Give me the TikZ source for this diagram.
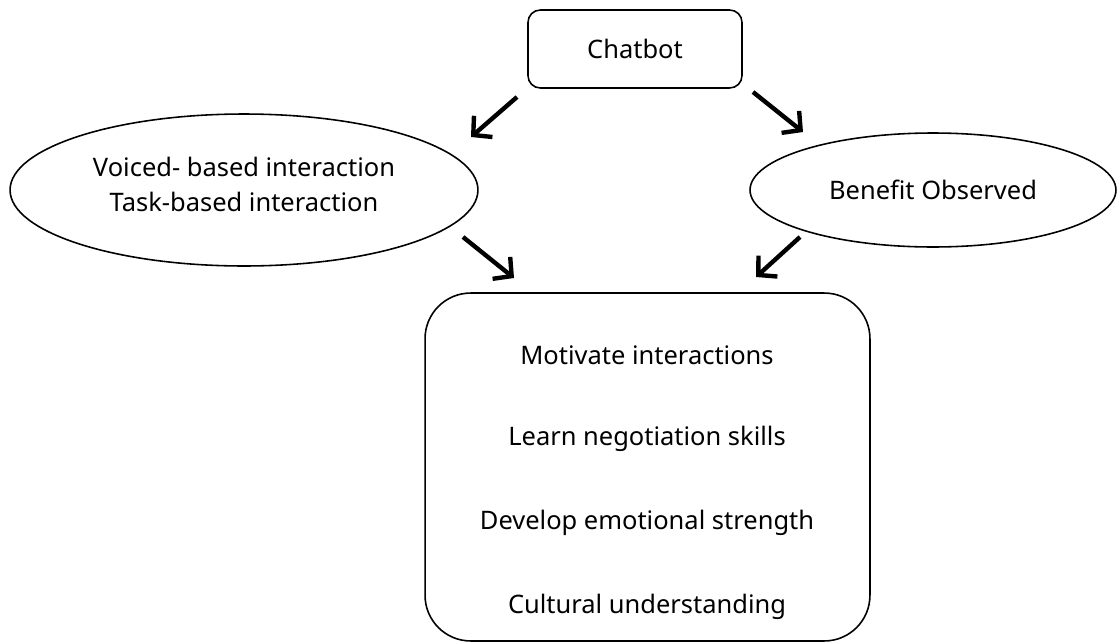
\documentclass[tikz,border=0pt]{standalone}
\usepackage{fontspec}
\setmainfont{Noto Sans}
\usetikzlibrary{arrows.meta,shapes.geometric}
\begin{document}
\begin{tikzpicture}[x=0.02cm,y=-0.02cm,
  every node/.style={font=\fontsize{14.5}{19.8}\selectfont},
  shapeline/.style={draw=black,line width=0.9pt,inner sep=0pt,align=center},
  flow/.style={line width=2.5pt,-{Straight Barb[length=7.5pt,width=16pt,line width=2.5pt]}}]
\useasboundingbox (0,0) rectangle (1117,643);
% top box
\node[shapeline,rectangle,rounded corners=7pt,minimum width=42.8mm,minimum height=15.6mm]
  (chat) at (635,49) {Chatbot};
% ellipses
\node[shapeline,ellipse,minimum width=93.6mm,minimum height=30.4mm]
  (left) at (244,190) {};
\node[align=center] (lefttext) at (244,184.5) {Voiced- based interaction\\Task-based interaction};
\node[shapeline,ellipse,minimum width=73.2mm,minimum height=22.8mm]
  (right) at (933,190) {Benefit Observed};
% outcome box
\node[shapeline,rectangle,rounded corners=26pt,minimum width=89mm,minimum height=69.6mm]
  (out) at (647.5,467) {};
\node (m1) at (647,355) {Motivate interactions};
\node (m2) at (647,439) {Learn negotiation skills};
\node (m3) at (647,523) {Develop emotional strength};
\node (m4) at (647,607) {Cultural understanding};
% arrow end points
\coordinate (a1s) at (517,97);  \coordinate (a1e) at (471,137);
\coordinate (a2s) at (753,92);  \coordinate (a2e) at (803,132);
\coordinate (a3s) at (463,237); \coordinate (a3e) at (514,278);
\coordinate (a4s) at (800,237); \coordinate (a4e) at (756,277);
\draw[flow] (a1s) -- (a1e);
\draw[flow] (a2s) -- (a2e);
\draw[flow] (a3s) -- (a3e);
\draw[flow] (a4s) -- (a4e);
\end{tikzpicture}
\end{document}
